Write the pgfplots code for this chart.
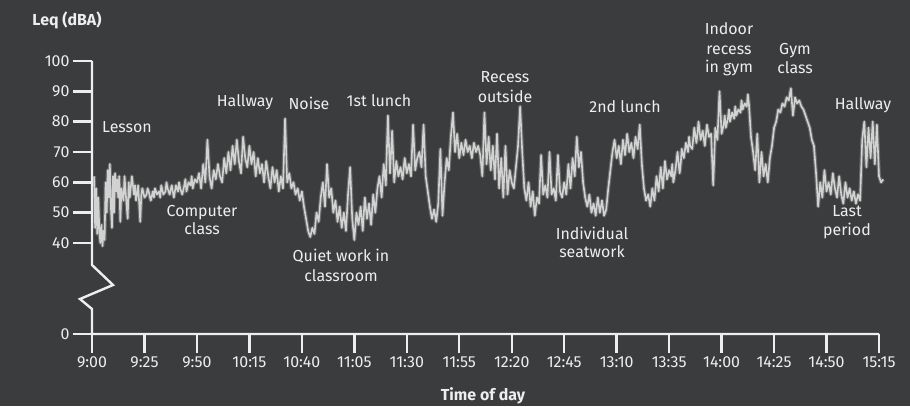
\documentclass[border=0pt]{standalone}
\usepackage{pgfplots}
\usepackage{pgfplotstable}
\usepackage{fontspec}
\setmainfont{Fira Sans}
\pgfplotsset{compat=1.18}

\definecolor{bgcol}{RGB}{59,60,61}
\definecolor{txtcol}{RGB}{238,238,238}
\definecolor{linecol}{RGB}{210,210,210}

% minutes after 9:00, Leq in dBA
\pgfplotstableread{
t leq
1 62
1.5 45
2 58
2.5 43
3 55
3.5 44
4 40
4.5 46
5 39
5.5 44
6 41
6.5 60
7 50
7.5 64
8 55
8.5 66
9 52
9.5 45
10 62
10.5 50
11 63
11.5 57
12 61
12.5 55
13 62
13.5 47
14 58
15 54
15.5 62
16 57
17 48
17.5 60
18 55
19 62
20 56
20.5 59
21 54
22 59
23 47
23.5 56
24 58
25 55
26 56
26.5 58
27 57
28 54
29 57
29.5 55
30 58
31 56
32 57
32.5 55
33 59
34 56
35 57
35.5 60
36 58
37 56
38 59
38.5 57
39 55
40 59
41 57
41.5 60
42 58
43 56
44 59
44.5 61
45 57
46 60
47 59
47.5 62
48 58
49 61
50 60
51 63
52 58
53 66
54 60
55 74
56 62
57 58
58 64
59 61
60 66
61 62
62 60
63 68
64 63
65 70
66 64
67 72
68 66
69 74
70 67
71 63
72 75
73 68
74 65
75 72
76 66
77 70
78 62
79 68
80 63
81 66
82 60
83 67
84 62
85 58
86 65
87 60
88 64
89 57
90 62
91 58
92 81
93 60
94 63
95 58
96 60
97 56
98 58
99 54
100 57
101 52
102 48
103 44
104 42
105 45
106 43
107 50
108 47
109 55
110 60
111 52
112 66
113 55
114 58
115 50
116 54
117 47
118 52
119 45
120 50
121 44
122 56
123 65
124 48
125 41
126 50
127 46
128 52
129 44
130 55
131 48
132 53
133 46
134 56
135 50
136 58
137 62
138 55
139 66
140 59
141 82
142 63
143 77
144 60
145 67
146 62
147 65
148 61
149 68
150 63
151 66
152 62
153 79
154 64
155 68
156 70
157 65
158 79
159 62
160 57
161 52
162 48
163 51
164 47
165 53
166 71
167 49
168 60
169 68
170 64
171 75
172 83
173 70
174 76
175 68
176 73
177 69
178 74
179 70
180 72
181 68
182 73
183 70
184 72
185 69
186 62
187 83
188 66
189 75
190 64
191 72
192 61
193 76
194 58
195 68
196 55
197 72
198 56
199 64
200 60
201 58
202 65
203 72
204 85
205 70
206 58
207 54
208 60
209 52
210 57
211 49
212 55
213 53
214 69
215 56
216 59
217 55
218 70
219 56
220 58
221 54
222 69
223 57
224 55
225 60
226 56
227 66
228 58
229 68
230 62
231 75
232 65
233 70
234 60
235 55
236 52
237 56
238 50
239 53
240 49
241 55
242 50
243 54
244 49
245 51
246 58
247 64
248 70
249 74
250 68
251 72
252 66
253 74
254 69
255 76
256 70
257 73
258 68
259 75
260 71
261 79
262 66
263 58
264 54
265 56
266 52
267 58
268 54
269 62
270 57
271 65
272 58
273 67
274 61
275 64
276 62
276.5 66
277 60
278 64
279 70
280 63
280.5 66
281 71
282 68
283 73
284 70
284.5 75
285 72
286 71
287 78
288 73
288.5 76
289 80
290 74
291 77
292 72
293 79
294 75
295 76
296 59
297 78
298 74
299 90
300 76
301 79
301.5 82
302 78
303 81
303.5 84
304 80
305 83
306 81
306.5 85
307 82
308 84
309 83
309.5 87
310 84
311 86
312 85
312.5 89
313 86
314 75
315 70
316 64
317 76
318 60
319 70
320 62
321 66
322 60
323 68
324 72
325 78
326 80
327 84
328 83
329 86
330 85
331 88
332 87
333 91
334 82
335 88
336 86
337 87
338 85
339 84
340 82
341 80
342 78
343 74
344 72
345 63
346 52
347 60
348 55
349 64
350 57
351 60
352 56
353 63
354 58
355 55
356 62
357 56
358 53
359 60
360 55
361 58
362 54
363 57
364 53
365 56
366 54
367 74
368 80
369 65
370 78
371 68
372 80
373 66
374 79
375 62
376 60
377 61
}\leqdata

\begin{document}
\begin{tikzpicture}[font=\fontsize{16}{19}\selectfont]
\fill[bgcol] (0,0) rectangle (910bp,406bp);
\begin{axis}[
    at={(92bp,72bp)}, anchor=south west,
    scale only axis, width=787bp, height=273bp,
    xmin=0, xmax=375, ymin=10, ymax=100,
    clip=false,
    axis lines*=left,
    axis line style={draw=none},
    tick align=outside,
    major tick length=19bp,
    tick style={draw=txtcol, line width=2.4bp},
    xtick={0,25,...,375},
    xticklabels={9:00,9:25,9:50,10:15,10:40,11:05,11:30,11:55,12:20,12:45,13:10,13:35,14:00,14:25,14:50,15:15},
    ytick={10,40,50,60,70,80,90,100},
    yticklabels={0,40,50,60,70,80,90,100},
    ticklabel style={text=txtcol, font=\fontsize{16}{19}\selectfont},
    /pgf/number format/assume math mode=true,
]
\addplot[linecol, opacity=0.3, line width=3.8bp, line join=round, forget plot] table[x=t, y=leq] {\leqdata};
\addplot[linecol, line width=1.6bp, line join=round] table[x=t, y=leq] {\leqdata};
\end{axis}
% axis lines with the break in the y axis
\draw[txtcol, line width=2.4bp, line join=miter]
  (92bp,345bp) -- (92bp,141bp) -- (113bp,121bp) -- (80bp,107bp) -- (92bp,97bp) -- (92bp,72bp) -- (879bp,72bp);
% titles
\node[txtcol, anchor=base, font=\fontsize{16}{19}\selectfont\bfseries] at (67bp,380bp) {Leq (dBA)};
\node[txtcol, anchor=base, font=\fontsize{16}{19}\selectfont\bfseries] at (483bp,6bp) {Time of day};
% activity labels
\begin{scope}[every node/.style={txtcol, anchor=base}]
\node at (127bp,273bp) {Lesson};
\node at (202bp,189bp) {Computer};
\node at (202bp,171bp) {class};
\node at (245bp,299bp) {Hallway};
\node at (309bp,296bp) {Noise};
\node at (379bp,299bp) {1st lunch};
\node at (505bp,323bp) {Recess};
\node at (505bp,303bp) {outside};
\node at (341bp,144bp) {Quiet work in};
\node at (341bp,124bp) {classroom};
\node at (625bp,293bp) {2nd lunch};
\node at (592bp,166bp) {Individual};
\node at (592bp,148bp) {seatwork};
\node at (729bp,371bp) {Indoor};
\node at (729bp,351bp) {recess};
\node at (729bp,333bp) {in gym};
\node at (795bp,351bp) {Gym};
\node at (795bp,332bp) {class};
\node at (863bp,296bp) {Hallway};
\node at (847bp,189bp) {Last};
\node at (847bp,170bp) {period};
\end{scope}
\end{tikzpicture}
\end{document}
